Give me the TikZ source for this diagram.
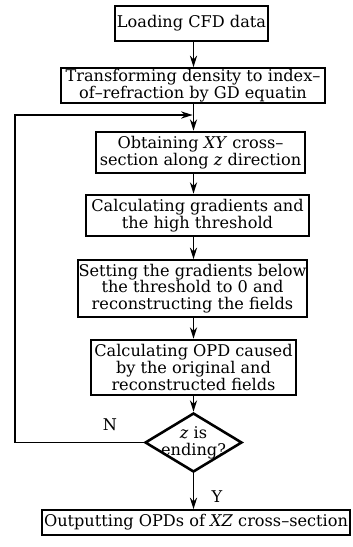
\documentclass[tikz,border=0pt]{standalone}
\usepackage{fontspec}
\setmainfont{DejaVu Serif}
\usetikzlibrary{arrows.meta,shapes.geometric,positioning}
\tikzset{
	blk/.style={draw, line width=1.8pt, align=center, inner sep=0.5pt,
		font=\fontsize{11.3}{11.7}\selectfont},
	blkthin/.style={blk, line width=1.2pt},
	sz/.style 2 args={minimum width=#1*0.7pt, minimum height=#2*0.7pt},
	dec/.style={draw, diamond, aspect=1.64, line width=1.8pt, inner sep=0pt},
	arr/.style={line width=1.1pt, -{Stealth[length=8pt,width=5pt,inset=2.5pt]}},
	lbl/.style={font=\fontsize{11.3}{11.7}\selectfont, inner sep=0pt}
}
\begin{document}
\begin{tikzpicture}[x=0.7pt,y=-0.7pt]
		\useasboundingbox (0,0) rectangle (352,547);

		\node [blk, sz={153}{35}] (load) at (191.5,23.5) {Loading CFD data};
		\node [blkthin, sz={264}{35}] (trans) at (193,85.5)
			{Transforming density to index--\\of--refraction by GD equatin};
		\node [blk, sz={209}{41}] (cut) at (200.5,152.5)
			{Obtaining \textit{XY} cross--\\section along \textit{z} direction};
		\node [blk, sz={223}{41}] (grad) at (197.5,215.5)
			{Calculating gradients and\\the high threshold};
		\node [blkthin, sz={229}{57}] (zero) at (192.5,288.5)
			{Setting the gradients below\\the threshold to 0 and\\reconstructing the fields};
		\node [blk, sz={205}{55}] (opd) at (193.5,367.5)
			{Calculating OPD caused\\by the original and\\reconstructed fields};
		\node [dec, sz={97}{59},
			label={[lbl, align=center]center:{\textit{z} is\\ending?}}] (end) at (193.5,442.5) {};
		\node [blkthin, sz={308}{25}] (out) at (196,522.5)
			{Outputting OPDs of \textit{XZ} cross--section};

		\coordinate (join) at (193.5,115);
		\coordinate (back) at (15,115);

		\draw[arr] (load.south -| end) -- (trans.north -| end);
		\draw[arr] (trans.south -| end) -- (cut.north -| end);
		\draw[arr] (cut.south -| end) -- (grad.north -| end);
		\draw[arr] (grad.south -| end) -- (zero.north -| end);
		\draw[arr] (zero.south -| end) -- (opd.north -| end);
		\draw[arr] (opd.south -| end) -- (end.north);
		\draw[arr] (end.south) -- (out.north -| end);
		\draw[arr, shorten >=0.6pt] (end.west) -| (back) -- (join);

		\node[lbl] (no) at (110,425) {N};
		\node[lbl] (yes) at (217,497) {Y};
	\end{tikzpicture}
\end{document}
